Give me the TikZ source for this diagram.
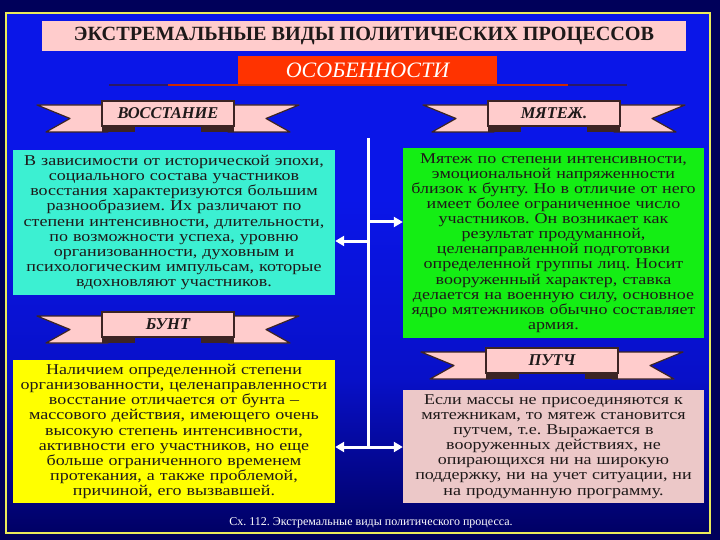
\documentclass[tikz,border=0pt]{standalone}
\usepackage{fontspec}
\setmainfont{Liberation Serif}
\newfontfamily\tnr{Liberation Serif}
\newfontfamily\tnrw{Liberation Serif}[FakeStretch=1.2]
\usetikzlibrary{arrows.meta}
\frenchspacing
\definecolor{bgouter}{RGB}{0,0,90}
\definecolor{bgtop}{RGB}{10,22,232}
\definecolor{bgmid}{RGB}{8,16,200}
\definecolor{bgbot}{RGB}{0,0,100}
\definecolor{frameyel}{RGB}{235,235,90}
\definecolor{pinkbar}{RGB}{255,204,204}
\definecolor{redbar}{RGB}{255,51,0}
\definecolor{ribbonpink}{RGB}{255,204,204}
\definecolor{ribbonedge}{RGB}{60,36,36}
\definecolor{cyanbox}{RGB}{60,240,210}
\definecolor{greenbox}{RGB}{20,238,20}
\definecolor{yellowbox}{RGB}{255,255,0}
\definecolor{pinkbox}{RGB}{236,200,200}
\definecolor{textdark}{RGB}{30,25,25}
\tikzset{
  textbox/.style={inner sep=0pt, align=center, text=textdark, font=\tnrw\frenchspacing\fontsize{15}{15.1}\selectfont},
  panel/.style={fill=ribbonpink, draw=ribbonedge, line width=1.2pt, minimum width=132pt, minimum height=25pt, inner sep=0pt, text=textdark, font=\tnr\fontsize{16.5}{16.5}\bfseries\itshape\selectfont},
  tail/.style={fill=ribbonpink, draw=ribbonedge, line width=1.2pt, line join=round},
  fold/.style={fill=ribbonedge},
  arr/.style={draw=white, line width=3pt, -{Triangle[length=9pt,width=10pt]}},
  dblarr/.style={draw=white, line width=3pt, {Triangle[length=9pt,width=10pt]}-{Triangle[length=9pt,width=10pt]}},
}
\newcommand\myribbon[4]{%
  \filldraw[tail] (#1-131,#2+4) -- (#1-60,#2+4) -- (#1-60,#2+31) -- (#1-122,#2+31) -- (#1-98,#2+17.5) -- cycle;
  \filldraw[tail] (#1+131,#2+4) -- (#1+60,#2+4) -- (#1+60,#2+31) -- (#1+122,#2+31) -- (#1+98,#2+17.5) -- cycle;
  \fill[fold] (#1-66,#2+25) rectangle (#1-33,#2+31);
  \fill[fold] (#1+33,#2+25) rectangle (#1+66,#2+31);
  \node[panel] (#3) at (#1,#2+12.5) {#4};
}
\begin{document}
\begin{tikzpicture}[x=1pt,y=-1pt]
\useasboundingbox (0,0) rectangle (720,540);
\fill[bgouter] (0,0) rectangle (720,540);
\fill[bgtop] (6,13) rectangle (710,200);
\shade[top color=bgtop, bottom color=bgmid] (6,199) rectangle (710,380);
\shade[top color=bgmid, bottom color=bgbot] (6,379) rectangle (710,533);
\draw[frameyel, line width=2pt] (6,13) rectangle (710,533);

\node[fill=pinkbar, minimum width=644pt, minimum height=30pt, inner sep=0pt, text=textdark, font=\tnr\fontsize{20.2}{20}\bfseries\selectfont] (title) at (364,36) {ЭКСТРЕМАЛЬНЫЕ ВИДЫ ПОЛИТИЧЕСКИХ ПРОЦЕССОВ};

\draw[ribbonedge!70!blue, line width=1.5pt] (109,85) -- (627,85);
\draw[redbar!80!black, line width=1.5pt] (168,85) -- (568,85);
\node[fill=redbar, minimum width=259pt, minimum height=28pt, inner sep=0pt, text=white, font=\tnr\fontsize{22}{22}\itshape\selectfont] (osob) at (367.5,70.5) {ОСОБЕННОСТИ};

\myribbon{168}{101}{vosst}{ВОССТАНИЕ}
\myribbon{554}{101}{myatezh}{МЯТЕЖ.}
\myribbon{168}{312}{bunt}{БУНТ}
\myribbon{552}{348}{putch}{ПУТЧ}

\node[textbox, fill=cyanbox, minimum width=322pt, minimum height=145pt, text width=318pt] (cyan) at (174,222.5) {В зависимости от исторической эпохи,\\социального состава участников\\восстания характеризуются большим\\разнообразием. Их различают по\\степени интенсивности, длительности,\\по возможности успеха, уровню\\организованности, духовным и\\психологическим импульсам, которые\\вдохновляют участников.};

\node[textbox, fill=greenbox, minimum width=301pt, minimum height=190pt, text width=297pt] (green) at (553.5,243) {Мятеж по степени интенсивности,\\эмоциональной напряженности\\близок к бунту. Но в отличие от него\\имеет более ограниченное число\\участников. Он возникает как\\результат продуманной,\\целенаправленной подготовки\\определенной группы лиц. Носит\\вооруженный характер, ставка\\делается на военную силу, основное\\ядро мятежников обычно составляет\\армия.};

\node[textbox, fill=yellowbox, minimum width=322pt, minimum height=143pt, text width=318pt] (yellow) at (174,431.5) {Наличием определенной степени\\организованности, целенаправленности\\восстание отличается от бунта –\\массового действия, имеющего очень\\высокую степень интенсивности,\\активности его участников, но еще\\больше ограниченного временем\\протекания, а также проблемой,\\причиной, его вызвавшей.};

\node[textbox, fill=pinkbox, minimum width=301pt, minimum height=113pt, text width=297pt] (pink) at (553.5,446.5) {Если массы не присоединяются к\\мятежникам, то мятеж становится\\путчем, т.е. Выражается в\\вооруженных действиях, не\\опирающихся ни на широкую\\поддержку, ни на учет ситуации, ни\\на продуманную программу.};

\coordinate (vtop) at (368,138);
\coordinate (vbot) at (368,447);
\draw[white, line width=3pt] (vtop) -- (vbot);
\draw[arr] (368,222) -- (green.west |- 0,222);
\draw[arr] (368,241) -- (cyan.east |- 0,241);
\draw[dblarr] (yellow.east |- vbot) -- (pink.west |- vbot);

\node[text=white, inner sep=0pt, font=\tnr\frenchspacing\fontsize{12}{12}\selectfont] (caption) at (371,523) {Сх. 112. Экстремальные виды политического процесса.};
\end{tikzpicture}
\end{document}
